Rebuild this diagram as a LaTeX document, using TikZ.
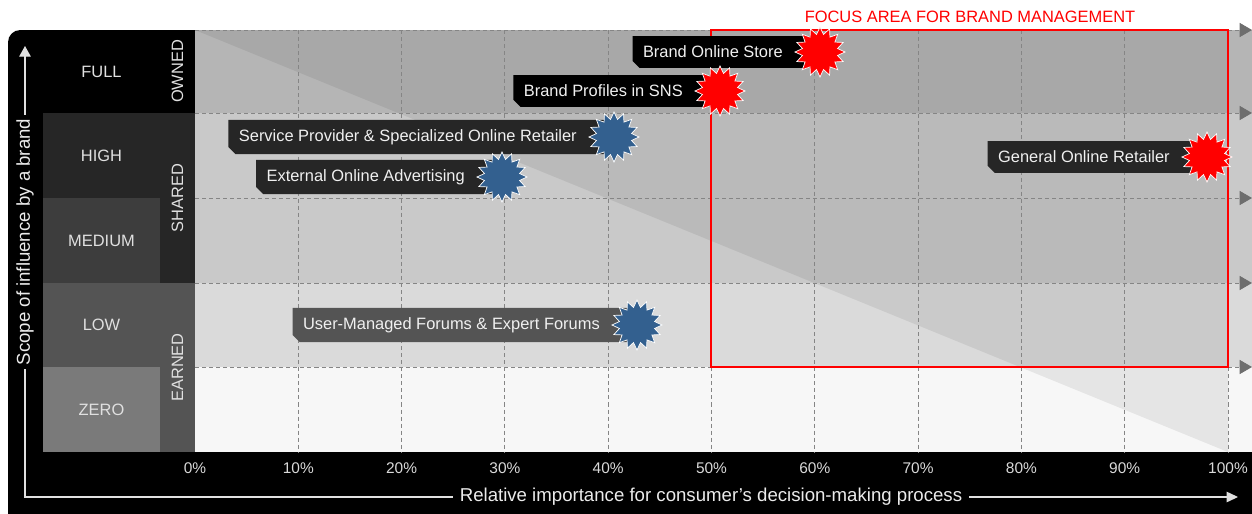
\documentclass[tikz,border=0pt]{standalone}
\usepackage{fontspec}
\setmainfont{Liberation Sans}
\usetikzlibrary{arrows.meta,shapes.geometric,shapes.misc}

\definecolor{burstred}{HTML}{FF0000}
\definecolor{burstblue}{HTML}{33608F}
\definecolor{gridgray}{HTML}{858585}
\definecolor{tipgray}{HTML}{6E6E6E}

\begin{document}
\begin{tikzpicture}[x=0.02cm, y=-0.02cm,
    txt/.style={font=\fontsize{9.35}{11}\selectfont},
    lvl/.style={txt, text=white!88!black},
    owner/.style={txt, text=white!88!black, rotate=90},
    pct/.style={font=\fontsize{8.8}{10}\selectfont, text=white!85!black},
    axislabel/.style={font=\fontsize{10.6}{12}\selectfont, text=white!92!black, fill=black, inner xsep=4pt},
    gridline/.style={gridgray, dash pattern=on 2.3pt off 1.7pt, line width=0.5pt},
    tagbox/.style={txt, text=white!94!black, chamfered rectangle, chamfered rectangle corners=south west,
      chamfered rectangle xsep=2pt, chamfered rectangle ysep=2pt, inner xsep=4pt, minimum height=18pt,
      anchor=east, execute at end node=\hspace{15pt}},
    burst/.style={star, star points=16, star point ratio=1.4, minimum size=28.5pt, inner sep=0pt,
      draw=white, line width=0.4pt}]

    \useasboundingbox (0,0) rectangle (1252,514);

    % black frame
    \fill[black, rounded corners=7pt] (8,30) rectangle (60,514);
    \fill[black] (30,30) rectangle (195,452);
    \fill[black] (8,452) rectangle (1252,514);

    % bands and the diagonal shade
    \foreach \top/\bot/\base in {30/113/71, 113/283/79, 283/367/85.5, 367/452/97}
      \fill[white!\base!black] (195,\top) rectangle (1252,\bot);
    \fill[black, opacity=0.07] (195,30) -- (1228,30) -- (1228,452) -- cycle;

    % grid
    \foreach \v in {10,20,...,100}
      \draw[gridline] ({195+10.33*\v},30) -- ({195+10.33*\v},452);
    \foreach \y in {30,113,198,283,367}
      \draw[gridline, -{Triangle[length=7pt, width=8pt, color=tipgray]}] (195,\y) -- (1252,\y);
    \foreach \v in {0,10,...,100}
      \node[pct] (pct\v) at ({195+10.33*\v},468) {\v\%};

    % levels of influence
    \foreach \name/\top/\bot/\shade in {FULL/30/113/0, HIGH/113/198/15, MEDIUM/198/283/24, LOW/283/367/33, ZERO/367/452/48} {
      \fill[white!\shade!black] (43,\top) rectangle (160,\bot);
      \node[lvl] (lvl-\name) at (101.5,{(\top+\bot)/2}) {\name};
    }
    \foreach \name/\top/\bot/\shade in {OWNED/30/113/0, SHARED/113/283/15, EARNED/283/452/33} {
      \fill[white!\shade!black] (160,\top) rectangle (195,\bot);
      \node[owner] (own-\name) at (177.5,{(\top+\bot)/2}) {\name};
    }

    % axes
    \coordinate (ytip) at (25,46);
    \coordinate (corner) at (25,497);
    \coordinate (xtip) at (1238,497);
    \draw[white!88!black, line width=0.6pt, {Triangle[length=6pt, width=6.5pt]}-{Triangle[length=6.5pt, width=6pt]}]
      (ytip) -- (corner) -- (xtip);
    \node[axislabel, rotate=90, inner xsep=2pt] (ylabel) at (25,242) {Scope of influence by a brand};
    \node[axislabel] (xlabel) at (711,497) {Relative importance for consumer's decision-making process};

    % focus area
    \draw[red, line width=0.6pt] (711,30) rectangle (1228,367);
    \node[txt, text=red] (focus) at (970,17) {FOCUS AREA FOR BRAND MANAGEMENT};

    % channels
    \coordinate (p-store) at (820,52);
    \coordinate (p-sns) at (720,91);
    \coordinate (p-service) at (614,137);
    \coordinate (p-ads) at (502,177);
    \coordinate (p-general) at (1207,157);
    \coordinate (p-forums) at (637,325);

    \node[tagbox, fill=black] (t-store) at (p-store) {Brand Online Store};
    \node[tagbox, fill=black] (t-sns) at (p-sns) {Brand Profiles in SNS};
    \node[tagbox, fill=white!15!black] (t-service) at (p-service) {Service Provider \& Specialized Online Retailer};
    \node[tagbox, fill=white!15!black] (t-ads) at (p-ads) {External Online Advertising};
    \node[tagbox, fill=white!15!black] (t-general) at (p-general) {General Online Retailer};
    \node[tagbox, fill=white!33!black] (t-forums) at (p-forums) {User-Managed Forums \& Expert Forums};

    \node[burst, fill=burstred] (b-store) at (p-store) {};
    \node[burst, fill=burstred] (b-sns) at (p-sns) {};
    \node[burst, fill=burstblue] (b-service) at (p-service) {};
    \node[burst, fill=burstblue] (b-ads) at (p-ads) {};
    \node[burst, fill=burstred] (b-general) at (p-general) {};
    \node[burst, fill=burstblue] (b-forums) at (p-forums) {};

\end{tikzpicture}
\end{document}
